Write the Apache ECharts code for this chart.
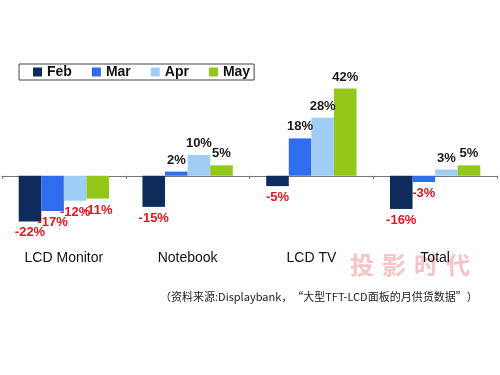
<!DOCTYPE html>
<html>
<head>
<meta charset="utf-8">
<script src="https://cdn.jsdelivr.net/npm/echarts@6/dist/echarts.min.js"></script>
<style>
  html, body { margin: 0; padding: 0; background: #fff; }
  #main { width: 500px; height: 375px; }
</style>
</head>
<body>
<div id="main"></div>
<script>
// 各品类面板月出货量环比
const categories = ['LCD Monitor', 'Notebook', 'LCD TV', 'Total']
const months = ['Feb', 'Mar', 'Apr', 'May']
const febData = [-22, -15, -5, -16]
const marData = [-17, 2, 18, -3]
const aprData = [-12, 10, 28, 3]
const mayData = [-11, 5, 42, 5]
const colors = ['#0e2b5c', '#2f6cee', '#9fcdf6', '#93c81b']
const sourceText = '（资料来源:Displaybank，“大型TFT-LCD面板的月供货数据”）'
const watermark = ['投', '影', '时', '代']

const seriesValues = [febData, marData, aprData, mayData]

function toItems (arr) {
  // 负数标签放在柱子下方，红色
  return arr.map(v => ({
    value: v,
    label: {
      position: v < 0 ? 'bottom' : 'top',
      color: v < 0 ? '#e8141e' : '#1a1a1a'
    }
  }))
}

const series = months.map((m, i) => ({
  name: m,
  type: 'bar',
  xAxisIndex: 0,
  barGap: '0%',
  barCategoryGap: '27%',
  itemStyle: { color: colors[i] },
  label: {
    show: true,
    formatter: '{c}%',
    fontSize: 13,
    fontWeight: 'bold',
    fontFamily: 'Liberation Sans, Arial, sans-serif',
    distance: 5
  },
  data: toItems(seriesValues[i])
}))

const chart = echarts.init(document.getElementById('main'))
chart.setOption({
  animation: false,
  backgroundColor: '#fff',
  color: colors,
  legend: {
    left: 19,
    top: 64,
    padding: [1, 4, 1, 14],
    borderColor: '#444',
    borderWidth: 1,
    borderRadius: 0,
    itemWidth: 9,
    itemHeight: 9,
    itemGap: 20,
    icon: 'rect',
    textStyle: {
      fontSize: 14,
      fontWeight: 'bold',
      color: '#111',
      fontFamily: 'Liberation Sans, Arial, sans-serif'
    },
    data: months
  },
  grid: {
    left: 2,
    right: 3,
    top: 72,
    height: 166,
    containLabel: false
  },
  xAxis: [
    {
      type: 'category',
      data: categories,
      position: 'bottom',
      axisLine: { show: false, onZero: false },
      axisTick: { show: false },
      axisLabel: {
        margin: 13,
        fontSize: 14,
        color: '#111',
        fontFamily: 'Liberation Sans, Arial, sans-serif'
      }
    },
    {
      type: 'category',
      data: categories,
      position: 'bottom',
      axisLine: { show: true, onZero: true, lineStyle: { color: '#777', width: 1 } },
      axisTick: { show: true, length: 3, lineStyle: { color: '#777' } },
      axisLabel: { show: false }
    }
  ],
  yAxis: {
    type: 'value',
    min: -30,
    max: 50,
    show: false,
    splitLine: { show: false }
  },
  graphic: [
    {
      type: 'text',
      left: 160,
      top: 291,
      style: {
        text: sourceText,
        fontSize: 11,
        fill: '#222',
        fontFamily: 'Noto Sans CJK SC, sans-serif'
      }
    }
  ].concat(watermark.map((ch, i) => ({
    type: 'text',
    left: 350 + i * 32,
    top: 253,
    z: -100,
    zlevel: 0,
    style: {
      text: ch,
      fontSize: 24,
      fontWeight: 'bold',
      fill: '#f6c4c6',
      fontFamily: 'Noto Sans CJK SC, sans-serif'
    }
  }))),
  series: series
})
</script>
</body>
</html>
